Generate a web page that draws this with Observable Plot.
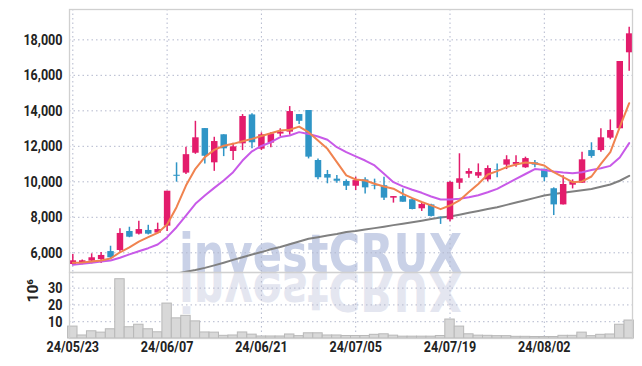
<!DOCTYPE html>
<html><head><meta charset="utf-8">
<script src="https://cdn.jsdelivr.net/npm/d3@7"></script>
<script src="https://cdn.jsdelivr.net/npm/@observablehq/plot@0.6"></script>
<style>
body{margin:0;background:#fff;}
#wrap{position:relative;width:642px;height:366px;overflow:hidden;}
#wm{position:absolute;left:0;top:0;}
#chart{position:absolute;left:0;top:0;}
#chart svg{display:block;background:transparent;}
</style></head><body>
<div id="wrap">
<svg id="wm" width="642" height="366">
  <text x="179" y="272" font-family="DejaVu Sans, Liberation Sans, sans-serif" font-weight="bold" font-size="54" fill="#c9d1e7" textLength="283" lengthAdjust="spacingAndGlyphs">investCRUX</text>
  <text x="179" y="272" transform="translate(0,545) scale(1,-1)" font-family="DejaVu Sans, Liberation Sans, sans-serif" font-weight="bold" font-size="54" fill="#e4e6f0" textLength="283" lengthAdjust="spacingAndGlyphs">investCRUX</text>
</svg>
<div id="chart"></div>
</div>
<script>
const dates = ["24/05/23","24/05/24","24/05/27","24/05/28","24/05/29","24/05/30","24/05/31","24/06/03","24/06/04","24/06/05",
"24/06/07","24/06/10","24/06/11","24/06/12","24/06/13","24/06/14","24/06/17","24/06/18","24/06/19","24/06/20",
"24/06/21","24/06/24","24/06/25","24/06/26","24/06/27","24/06/28","24/07/01","24/07/02","24/07/03","24/07/04",
"24/07/05","24/07/08","24/07/09","24/07/10","24/07/11","24/07/12","24/07/15","24/07/16","24/07/17","24/07/18",
"24/07/19","24/07/22","24/07/23","24/07/24","24/07/25","24/07/26","24/07/29","24/07/30","24/07/31","24/08/01",
"24/08/02","24/08/05","24/08/06","24/08/07","24/08/08","24/08/09","24/08/12","24/08/13","24/08/14","24/08/16"];
const open  = [5340,5400,5530,5620,6070,6130,7200,7050,7260,7110, 7500,10370,10490,11610,13000,11070,12650,11710,12140,13770,
 11840,12180,12690,12800,13790,14020,11200,10410,10150,10020, 9750,10110,9800,9780,9080,9170,8990,8480,8700,8000,
 7860,9920,10430,10320,10110,10690,10940,10980,10790,11070, 10710,9610,8700,9810,9920,11760,11760,12460,12990,17270];
const high  = [5900,5600,5940,6020,6370,7350,7440,7780,7550,7670, 9470,11070,11950,13410,13000,12510,12650,12180,13790,13830,
 12760,12760,12990,14240,13790,14020,11290,10640,10360,10110, 10260,10230,10150,10260,9170,9600,9030,8800,8740,8010,
 10020,11580,10730,11010,10900,11010,11470,11470,11390,11200, 10710,9660,10340,10110,11670,12200,12990,13490,16780,18710];
const low   = [5290,5320,5380,5400,5660,6030,6850,7010,7010,7090, 7200,9980,10410,11550,11010,10590,11420,11200,11760,11860,
 11760,11920,12550,12630,13230,11290,10110,9890,9920,9510, 9510,9320,9550,8950,8800,8850,8420,8330,8020,7600,
 7750,9570,10200,10190,10000,10230,10690,10820,10760,10790, 10000,8100,8700,9600,9900,11330,11670,12370,12990,16230];
const close = [5550,5550,5720,5850,5720,7090,6880,7310,7050,7310, 9470,10310,11530,12480,11440,12270,11860,11970,13680,12200,
 12650,12700,12800,13960,13410,11390,10230,10210,10030,9750, 10070,9660,9760,9080,9170,8850,8440,8720,8050,7970,
 9960,10170,10580,10520,10750,10660,11240,11090,11310,10940, 10230,8700,9850,9980,11240,11430,12480,12890,16780,18340];
const ma5  = [5440,5460,5510,5570,5680,6030,6310,6630,6880,7120, 7590,8570,9790,10730,11390,11800,12030,12140,12290,12420,
 12580,12740,12890,12930,13110,12800,12330,11860,11110,10360, 10130,10075,9890,9740,9610,9320,9080,8860,8670,8460,
 8665,8950,9420,9880,10410,10600,10830,10980,11090,11050, 10920,10540,10260,9980,10020,10300,11010,11670,13080,14430];
const ma10 = [5320,5380,5435,5510,5570,5720,5910,6090,6260,6470, 6880,7440,8100,8760,9230,9660,10070,10540,11200,11720,
 12020,12230,12520,12610,12800,12700,12550,12370,11950,11670, 11430,11200,10920,10450,9980,9740,9550,9380,9170,9000,
 9000,9040,9130,9245,9410,9600,9880,10160,10440,10720, 10670,10580,10520,10480,10540,10670,10760,10900,11370,12180];
const ma60 = [null,null,null,null,null,null,null,null,null,null, 4740,4830,4930,5030,5150,5290,5440,5600,5750,5900,
 6040,6200,6330,6480,6640,6790,6880,6970,7060,7170, 7230,7310,7390,7470,7560,7640,7720,7810,7900,7990,
 8045,8150,8255,8360,8465,8570,8700,8830,8960,9095, 9230,9310,9390,9460,9530,9600,9720,9850,10060,10340];
const volume = [7.1,1.8,4.3,3.5,5.5,35.3,6.7,8.2,5.5,3.7, 20.8,12.0,13.5,10.2,3.6,3.5,1.6,1.8,3.6,2.3,
 1.2,1.2,1.2,2.4,1.4,3.1,3.1,1.8,1.8,1.5, 1.5,1.5,2.2,2.5,1.7,1.1,1.1,1.1,1.1,1.5,
 11.3,7.1,2.5,1.7,1.6,1.4,1.4,1.0,1.0,0.9, 0.9,0.9,1.6,1.6,3.5,1.4,2.2,2.4,8.2,10.7];
const priceTicks = [6000,8000,10000,12000,14000,16000,18000];
const volumeTicks = [10,20,30];
const dateTicks = ["24/05/23","24/06/07","24/06/21","24/07/05","24/07/19","24/08/02"];

const rows = dates.map((d,i)=>({date:d,o:open[i],h:high[i],l:low[i],c:close[i],ma5:ma5[i],ma10:ma10[i],ma60:ma60[i],v:volume[i]}));
const UP = "#e31c6c", DOWN = "#2f95c6";
const col = d => d.c >= d.o ? UP : DOWN;
const font = "Roboto, 'Liberation Sans', sans-serif";
const xCfg = {type:"band", domain:dates, range:[67.6,633.4], padding:0, round:false, axis:null};
const grid = {stroke:"#b3b8cd", strokeOpacity:1, strokeDasharray:"1.5,3", strokeWidth:1};
const style = {fontFamily:font, fontSize:"15.5px", fontWeight:"bold", color:"#222", background:"transparent", overflow:"visible"};

const price = Plot.plot({
  width:642, height:272, marginTop:9, marginBottom:0, marginLeft:69, marginRight:10,
  style,
  x: xCfg,
  y: {domain:[4890,19710], axis:null},
  marks: [
    Plot.gridY(priceTicks, grid),
    Plot.gridX(dateTicks, grid),
    Plot.line(rows.filter(d=>d.ma60!=null), {x:"date", y:"ma60", stroke:"#808080", strokeWidth:2, clip:true}),
    Plot.ruleX(rows, {x:"date", y1:"l", y2:"h", stroke:col, strokeWidth:1.5}),
    Plot.ruleX(rows, {x:"date", y1:"o", y2:"c", stroke:col, strokeWidth:6.5}),
    Plot.line(rows, {x:"date", y:"ma10", stroke:"#c85ae8", strokeWidth:2, clip:true}),
    Plot.line(rows, {x:"date", y:"ma5", stroke:"#f0834f", strokeWidth:2, clip:true}),
    Plot.frame({stroke:"#d0d0d0", strokeWidth:1.3}),
    Plot.axisY(priceTicks, {tickSize:0, tickPadding:7, tickFormat:d3.format(","), label:null})
  ]
});

const vol = Plot.plot({
  width:642, height:94, marginTop:0, marginBottom:28, marginLeft:69, marginRight:10,
  style,
  x: xCfg,
  y: {domain:[0,39.3], axis:null},
  marks: [
    Plot.gridY(volumeTicks, grid),
    Plot.gridX(dateTicks, grid),
    Plot.barY(rows, {x:"date", y:"v", fill:"#d8d8d8", stroke:"#b8b8b8", strokeWidth:1}),
    Plot.frame({stroke:"#d0d0d0", strokeWidth:1.3}),
    Plot.axisY(volumeTicks, {tickSize:0, tickPadding:7, label:null}),
    Plot.axisX(dateTicks, {tickSize:0, tickPadding:2, label:null}),
    Plot.text(["10⁶"], {frameAnchor:"left", dx:-36, dy:-3, rotate:-90, text:d=>d, fontSize:15.5})
  ]
});
// condense the tick labels horizontally (the reference uses a condensed face)
for (const svg of [price, vol]) {
  svg.querySelectorAll('g[aria-label$="tick label"] text').forEach(t => {
    t.setAttribute("transform", (t.getAttribute("transform") || "") + " scale(0.81,1)");
  });
}
document.getElementById("chart").append(price, vol);
</script>
</body></html>
